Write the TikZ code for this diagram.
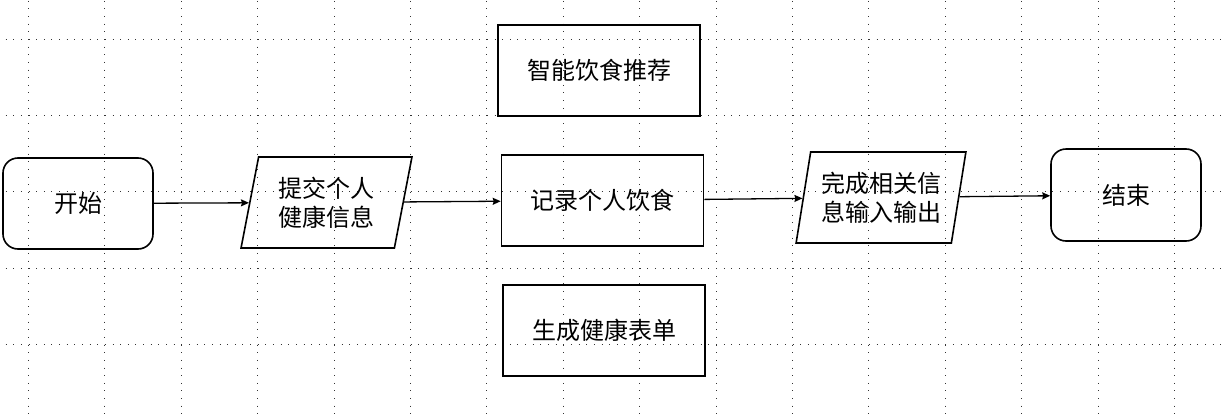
\documentclass[tikz,border=0pt]{standalone}
\usepackage{fontspec}
\setmainfont{Noto Sans CJK SC}
\usetikzlibrary{shapes.geometric,arrows.meta}
\begin{document}
\begin{tikzpicture}[x=1pt,y=-1pt,
  gridline/.style={black!80,line width=1pt,dash pattern=on 1pt off 6.64pt},
  box/.style={draw,line width=1.6pt,minimum width=#1,minimum height=91pt,inner sep=0pt,
    font=\fontsize{24}{30}\selectfont,align=center},
  term/.style={box=150pt,rounded corners=15pt},
  para/.style={draw,line width=1.6pt,trapezium,trapezium left angle=76.4,
    trapezium right angle=103.6,trapezium stretches=true,
    minimum width=#1,minimum height=91pt,inner sep=0pt,
    font=\fontsize{24}{29}\selectfont,align=center},
  flow/.style={line width=1.3pt,-{Stealth[length=8pt,width=7pt,inset=1pt]}}]
\useasboundingbox (0,0) rectangle (1222,415);
% dotted grid
\foreach \k in {0,...,4}{
  \draw[gridline] (5.58,39+76.4*\k) -- (1222,39+76.4*\k);
}
\foreach \k in {0,...,15}{
  \draw[gridline] (28.5+76.4*\k,0.8) -- (28.5+76.4*\k,415);
}
% nodes
\node[term] (start) at (78,203.5) {开始};
\node[para=171pt] (p1) at (326.5,202.5) {提交个人\\健康信息};
\node[box=202pt] (smart) at (599,70.2) {智能饮食推荐};
\node[box=202pt] (rec) at (602.5,200.5) {记录个人饮食};
\node[box=202pt] (gen) at (604,330.2) {生成健康表单};
\node[para=170pt] (p2) at (881,197.5) {完成相关信\\息输入输出};
\node[term,minimum height=92pt] (stop) at (1126,195) {结束};
% connectors
\draw[flow] (start) -- (p1);
\draw[flow] (p1) -- (rec);
\draw[flow] (rec) -- (p2);
\draw[flow] (p2) -- (stop);
\end{tikzpicture}
\end{document}
